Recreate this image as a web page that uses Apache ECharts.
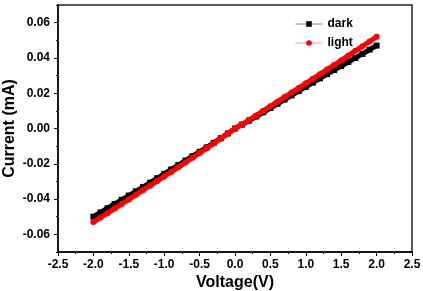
<!DOCTYPE html>
<html>
<head>
<meta charset="utf-8">
<script src="https://cdn.jsdelivr.net/npm/echarts@6/dist/echarts.min.js"></script>
<style>
  html, body { margin: 0; padding: 0; background: #fff; }
  #chart { width: 423px; height: 291px; }
</style>
</head>
<body>
<div id="chart"></div>
<script>
// bias voltage (V), step 0.1
const voltage = [
  -2.0, -1.9, -1.8, -1.7, -1.6, -1.5, -1.4, -1.3, -1.2, -1.1,
  -1.0, -0.9, -0.8, -0.7, -0.6, -0.5, -0.4, -0.3, -0.2, -0.1,
  0.0, 0.1, 0.2, 0.3, 0.4, 0.5, 0.6, 0.7, 0.8, 0.9,
  1.0, 1.1, 1.2, 1.3, 1.4, 1.5, 1.6, 1.7, 1.8, 1.9, 2.0
];

// current (mA)
const darkCurrent = [
  -0.0500, -0.0476, -0.0452, -0.0428, -0.0404, -0.0380, -0.0356, -0.0332, -0.0307, -0.0282,
  -0.0257, -0.0232, -0.0207, -0.0182, -0.0157, -0.0132, -0.0107, -0.0081, -0.0055, -0.0028,
  0.0000, 0.0022, 0.0045, 0.0068, 0.0092, 0.0116, 0.0140, 0.0164, 0.0188, 0.0212,
  0.0236, 0.0260, 0.0284, 0.0308, 0.0331, 0.0354, 0.0377, 0.0400, 0.0423, 0.0447, 0.0470
];
const lightCurrent = [
  -0.0530, -0.0505, -0.0480, -0.0454, -0.0428, -0.0402, -0.0376, -0.0350, -0.0324, -0.0298,
  -0.0272, -0.0246, -0.0220, -0.0193, -0.0166, -0.0139, -0.0112, -0.0085, -0.0057, -0.0029,
  0.0000, 0.0024, 0.0049, 0.0074, 0.0100, 0.0126, 0.0152, 0.0178, 0.0204, 0.0230,
  0.0256, 0.0282, 0.0308, 0.0334, 0.0360, 0.0386, 0.0413, 0.0440, 0.0466, 0.0493, 0.0520
];

const yMajorTicks = [-0.06, -0.04, -0.02, 0.0, 0.02, 0.04, 0.06];
const yMinorTicks = [-0.07, -0.05, -0.03, -0.01, 0.01, 0.03, 0.05, 0.07];

const font = "'Liberation Sans', Arial, sans-serif";
const pairs = (ys) => voltage.map((v, i) => [v, ys[i]]);

const chart = echarts.init(document.getElementById("chart"), null, { renderer: "canvas" });

chart.setOption({
  animation: false,
  backgroundColor: "#fff",
  grid: {
    left: 58, right: 11, top: 5, bottom: 39,
    show: true, borderColor: "#222", borderWidth: 1.5,
    outerBoundsMode: "none",
  },
  legend: {
    orient: "vertical",
    left: 290, top: 13,
    itemWidth: 27, itemHeight: 7, itemGap: 7,
    textStyle: { fontFamily: font, fontWeight: "bold", fontSize: 12, color: "#000" },
    data: [
      { name: "dark", itemStyle: { color: "#000" }, lineStyle: { color: "#888", width: 1 } },
      { name: "light", itemStyle: { color: "#f00" }, lineStyle: { color: "#ff9a9a", width: 1 } },
    ],
  },
  xAxis: {
    type: "value",
    min: -2.5, max: 2.5, interval: 0.5,
    name: "Voltage(V)",
    nameLocation: "middle",
    nameGap: 23,
    nameMoveOverlap: false,
    nameTextStyle: { fontFamily: font, fontWeight: "bold", fontSize: 16, color: "#000" },
    axisLine: { onZero: false, lineStyle: { color: "#000", width: 1.5 } },
    axisTick: { length: 4, lineStyle: { color: "#000", width: 1 } },
    minorTick: { show: true, splitNumber: 2, length: 2, lineStyle: { color: "#000", width: 1 } },
    splitLine: { show: false },
    axisLabel: {
      margin: 7,
      fontFamily: font, fontWeight: "bold", fontSize: 12, color: "#000",
      formatter: (v) => v.toFixed(1),
    },
  },
  yAxis: [
    {
      type: "value",
      position: "left",
      min: -0.07, max: 0.07,
      name: "Current (mA)",
      nameLocation: "middle",
      nameGap: 40,
      nameMoveOverlap: false,
      nameTextStyle: { fontFamily: font, fontWeight: "bold", fontSize: 16, color: "#000" },
      axisLine: { show: true, onZero: false, lineStyle: { color: "#000", width: 1.5 } },
      axisTick: { length: 4, customValues: yMajorTicks, lineStyle: { color: "#000", width: 1 } },
      splitLine: { show: false },
      axisLabel: {
        margin: 8,
        customValues: yMajorTicks,
        fontFamily: font, fontWeight: "bold", fontSize: 12, color: "#000",
        formatter: (v) => v.toFixed(2),
      },
    },
    {
      type: "value",
      position: "left",
      min: -0.07, max: 0.07,
      axisLine: { show: false, onZero: false },
      axisTick: { length: 2, customValues: yMinorTicks, lineStyle: { color: "#000", width: 1 } },
      axisLabel: { show: false },
      splitLine: { show: false },
    },
  ],
  series: [
    {
      name: "dark",
      type: "line",
      data: pairs(darkCurrent),
      symbol: "rect",
      symbolSize: 6,
      itemStyle: { color: "#000" },
      lineStyle: { color: "#000", width: 5 },
      z: 2,
    },
    {
      name: "light",
      type: "line",
      data: pairs(lightCurrent),
      symbol: "circle",
      symbolSize: 6,
      itemStyle: { color: "#f00" },
      lineStyle: { color: "#f00", width: 5 },
      z: 3,
    },
  ],
});
</script>
</body>
</html>
